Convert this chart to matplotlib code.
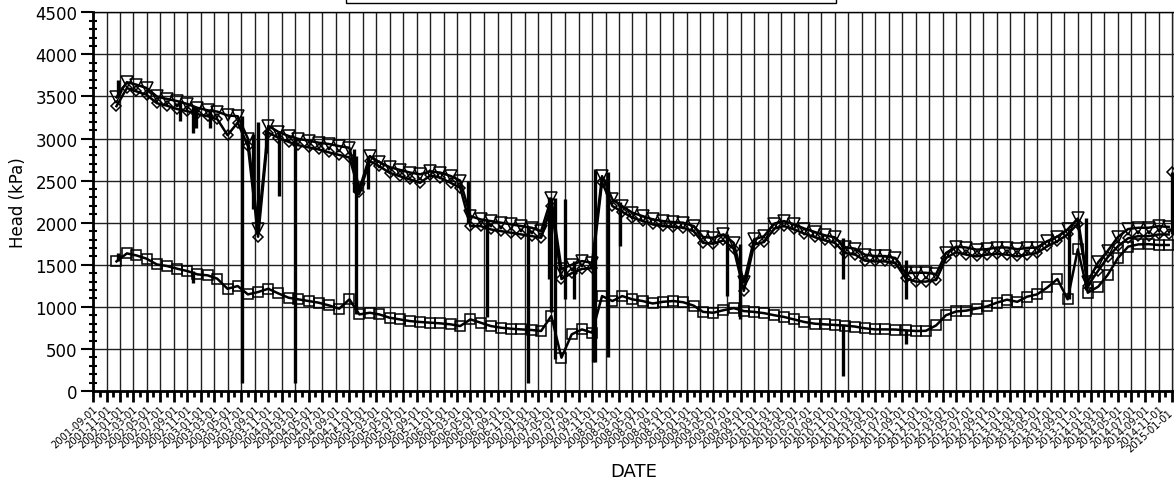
import matplotlib
matplotlib.use('Agg')
import matplotlib.pyplot as plt
import matplotlib.dates as mdates
import matplotlib.transforms as mtransforms
import numpy as np
import pandas as pd
from matplotlib.patches import Rectangle

plt.rcParams['font.family'] = ['DejaVu Sans']

# ---------------- data ----------------
sample_days = ['02-01', '03-16', '05-01', '06-16', '08-01', '09-16', '11-01', '12-16']
sample_dates = ['2001-12-16'] + [f'{y}-{d}' for y in range(2002, 2015) for d in sample_days]

head_tri = [3490, 3670, 3640, 3600, 3500, 3470, 3445, 3410, 3365, 3335, 3320, 3275, 3265,
            3000, 1930, 3150, 3080, 3030, 2995, 2975, 2950, 2935, 2910, 2890, 2400,
            2791, 2720, 2660, 2628, 2596, 2575, 2610, 2595, 2555, 2500,
            2078, 2039, 2019, 2000, 1980, 1960, 1940, 1900,
            2288, 1450, 1500, 1544, 1524, 2553, 2276, 2197,
            2118, 2078, 2039, 2019, 2007, 2000, 1960, 1830, 1820, 1861,
            1760, 1290, 1801, 1840, 1990, 2019, 1980, 1930, 1890, 1850,
            1825, 1710, 1690, 1620, 1603, 1603, 1580, 1400, 1405, 1405,
            1390, 1640, 1715, 1705, 1680, 1685, 1705, 1705, 1685, 1700,
            1705, 1780, 1835, 1920, 2050, 1300, 1530, 1665, 1830, 1925,
            1940, 1940, 1958, 1950]

head_dia = [3385, 3600, 3560, 3520, 3420, 3390, 3350, 3325, 3290, 3265, 3230, 3040, 3190,
            2910, 1833, 3070, 3010, 2960, 2920, 2895, 2870, 2835, 2805, 2775, 2360,
            2732, 2672, 2593, 2553, 2514, 2474, 2561, 2534, 2474, 2415,
            1960, 1960, 1920, 1900, 1880, 1861, 1841, 1821,
            2197, 1330, 1400, 1450, 1460, 2480, 2197, 2130,
            2060, 2020, 1980, 1960, 1950, 1940, 1900, 1760, 1750, 1790,
            1690, 1190, 1740, 1770, 1930, 1960, 1920, 1870, 1830, 1790,
            1760, 1640, 1620, 1550, 1540, 1540, 1520, 1340, 1300, 1300,
            1320, 1580, 1650, 1620, 1600, 1620, 1630, 1620, 1600, 1620,
            1640, 1720, 1780, 1860, 1990, 1250, 1430, 1590, 1720, 1815,
            1840, 1840, 1860, 1860]

head_sq = [1540, 1635, 1611, 1572, 1504, 1485, 1453, 1425, 1386, 1374, 1334, 1215, 1247,
           1148, 1176, 1215, 1160, 1108, 1089, 1069, 1049, 1017, 978, 1089, 910,
           930, 910, 871, 851, 831, 820, 812, 804, 792, 772,
           851, 812, 772, 752, 740, 732, 725, 713,
           891, 396, 673, 732, 693, 1128, 1069, 1128,
           1089, 1069, 1040, 1060, 1069, 1055, 1015, 940, 930, 960,
           985, 950, 940, 925, 900, 880, 850, 820, 800, 792,
           785, 778, 765, 745, 732, 732, 730, 721, 713, 715,
           780, 900, 945, 955, 980, 1005, 1050, 1085, 1060, 1120,
           1148, 1230, 1330, 1089, 1683, 1168, 1240, 1380, 1580, 1715,
           1742, 1745, 1735, 1735]

# last raw reading of the diamond record
dia_last_date = ['2015-01-01']
dia_last_val = [2600]

# raw-record excursions (vertical jumps in the logger record)
spike_dates = ['2001-12-22', '2002-09-28', '2002-11-28', '2002-11-28', '2002-12-10', '2003-02-10',
               '2003-07-04', '2003-08-22', '2003-09-16', '2003-10-22', '2003-12-19', '2004-03-01',
               '2004-11-20', '2004-12-01', '2005-01-25', '2006-04-19', '2006-07-16', '2007-01-16',
               '2007-04-22', '2007-04-28', '2007-05-16', '2007-07-01', '2007-08-10', '2007-11-07',
               '2007-11-16', '2008-01-10', '2008-03-07', '2009-07-04', '2009-08-28', '2010-12-07',
               '2010-12-07', '2011-09-16', '2011-09-16', '2013-09-22', '2013-12-07', '2015-01-01',
               '2001-12-22']
spike_from = [3490, 3440, 3390, 1420, 3370, 3330,
              3265, 3050, 3200, 3100, 3080, 3000,
              2880, 910, 2400, 2494, 2030, 1950,
              1330, 2290, 2290, 2280, 1550, 1520,
              344, 2600, 2250, 1860, 1750, 1820,
              780, 1560, 720, 1920, 2060, 1860,
              1540]
spike_to = [3690, 3207, 3068, 1287, 3120, 3128,
            99, 2158, 1930, 2830, 2316, 99,
            2360, 2790, 2790, 2000, 880, 99,
            2300, 937, 380, 1092, 1092, 344,
            2636, 400, 1722, 1128, 851, 1326,
            178, 1089, 554, 1089, 1200, 2600,
            1643]

# ---------------- figure ----------------
W, H = 1174, 481
fig = plt.figure(figsize=(W / 100, H / 100), dpi=100)
ax = fig.add_axes([93 / W, 1 - 392 / H, (W - 93) / W, (392 - 13.3) / H])

d = pd.to_datetime(sample_dates)
sd = pd.to_datetime(spike_dates)

ax.vlines(sd, spike_from, spike_to, color='black', lw=2.4, zorder=3)
ax.plot(d, head_tri, color='black', lw=1.8, marker='v', ms=8, mfc='none', mec='black', mew=1.1, zorder=4)
ax.plot(d, head_dia, color='black', lw=1.8, marker='D', ms=5.5, mfc='none', mec='black', mew=1.1, zorder=4)
ax.plot(d, head_sq, color='black', lw=1.8, marker='s', ms=7.5, mfc='none', mec='black', mew=1.1, zorder=4)
ax.plot(pd.to_datetime(dia_last_date), dia_last_val, ls='none', marker='D', ms=5.5,
        mfc='none', mec='black', mew=1.1, zorder=4, clip_on=False)

ax.set_xlim(pd.Timestamp('2001-09-01'), pd.Timestamp('2015-01-09'))
ax.set_ylim(0, 4500)

ax.xaxis.set_major_locator(mdates.MonthLocator(bymonth=[1, 3, 5, 7, 9, 11]))
ax.xaxis.set_minor_locator(mdates.MonthLocator())
ax.xaxis.set_major_formatter(mdates.DateFormatter('%Y-%m-%d'))
ax.yaxis.set_major_locator(plt.MultipleLocator(500))
ax.yaxis.set_minor_locator(plt.MultipleLocator(100))

ax.grid(True, which='major', color='#202020', lw=1.0)
ax.set_axisbelow(True)

for s in ['left', 'bottom']:
    ax.spines[s].set_linewidth(2)
for s in ['top', 'right']:
    ax.spines[s].set_linewidth(1)

ax.tick_params(axis='x', which='major', direction='out', length=8, width=2, labelsize=7.2, pad=1)
ax.tick_params(axis='x', which='minor', direction='out', length=4, width=2)
ax.tick_params(axis='y', which='major', direction='out', length=9, width=1.5, labelsize=12, pad=2)
ax.tick_params(axis='y', which='minor', direction='inout', length=6, width=1.5)

ROT = 42
labels = ax.get_xticklabels()
for lbl in labels:
    lbl.set_rotation(ROT)
    lbl.set_ha('right')
    lbl.set_va('top')
    lbl.set_rotation_mode('anchor')
# slide the last date label a little along its own direction so it stays inside the picture
s_px = 6
shift = mtransforms.ScaledTranslation(-s_px * np.cos(np.radians(ROT)) / 100,
                                      -s_px * np.sin(np.radians(ROT)) / 100,
                                      fig.dpi_scale_trans)
labels[-1].set_transform(labels[-1].get_transform() + shift)

ax.set_xlabel('DATE', fontsize=13, labelpad=6)
ax.set_ylabel('Head (kPa)', fontsize=12, labelpad=6)

fig.patches.append(Rectangle((346 / W, 1 - 4 / H), (836 - 346) / W, 0.2,
                             transform=fig.transFigure, fill=False, ec='black', lw=1))

fig.savefig('out.png', dpi=100)
